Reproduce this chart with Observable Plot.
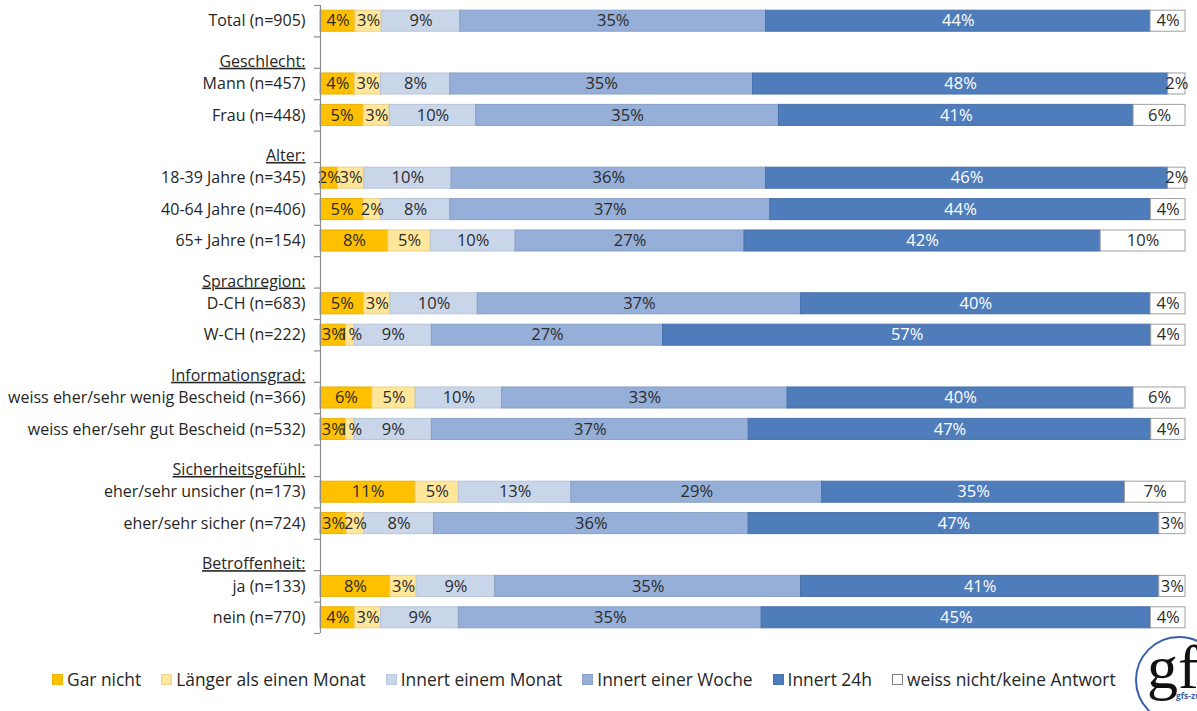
<!DOCTYPE html>
<html><head><meta charset="utf-8">
<script src="https://cdn.jsdelivr.net/npm/d3@7"></script>
<script src="https://cdn.jsdelivr.net/npm/@observablehq/plot@0.6"></script>
<style>
html,body{margin:0;padding:0;background:#fff;overflow:hidden;}
#wrap{position:relative;width:1197px;height:711px;font-family:"Open Sans",sans-serif;color:#262626;overflow:hidden;}
#legend{position:absolute;left:52px;top:667px;display:flex;gap:20px;font-size:17.4px;line-height:24px;white-space:nowrap;}
#legend .it{display:flex;align-items:center;}
#legend .sw{width:11px;height:11px;margin-right:4px;box-sizing:border-box;}
#logo{position:absolute;left:1128px;top:628px;}
</style></head>
<body><div id="wrap"><div id="chart"></div><div id="legend"></div>
<svg id="logo" width="80" height="90" viewBox="0 0 80 90">
<circle cx="51" cy="52" r="43" fill="none" stroke="#3a5fa8" stroke-width="2"/>
<text x="19" y="60" font-family="Liberation Serif, serif" font-size="62" fill="#111">gfs</text>
<text x="48" y="71" font-family="Open Sans, sans-serif" font-size="8.5" font-weight="bold" fill="#3a5fa8">gfs-zü</text>
</svg>
</div>
<script>
const rows = [
  "Total (n=905)",
  "Geschlecht:", "Mann (n=457)", "Frau (n=448)",
  "Alter:", "18-39 Jahre (n=345)", "40-64 Jahre (n=406)", "65+ Jahre (n=154)",
  "Sprachregion:", "D-CH (n=683)", "W-CH (n=222)",
  "Informationsgrad:", "weiss eher/sehr wenig Bescheid (n=366)", "weiss eher/sehr gut Bescheid (n=532)",
  "Sicherheitsgefühl:", "eher/sehr unsicher (n=173)", "eher/sehr sicher (n=724)",
  "Betroffenheit:", "ja (n=133)", "nein (n=770)"
];
const headers = ["Geschlecht:", "Alter:", "Sprachregion:", "Informationsgrad:", "Sicherheitsgefühl:", "Betroffenheit:"];
const categories = ["Gar nicht", "Länger als einen Monat", "Innert einem Monat", "Innert einer Woche", "Innert 24h", "weiss nicht/keine Antwort"];
const colors = ["#FFC000", "#FFE699", "#C9D6EA", "#95AFD8", "#4F7CBB", "#FFFFFF"];

// values per series, in order of the data rows (non-header rows)
const garNicht = [4, 4, 5, 2, 5, 8, 5, 3, 6, 3, 11, 3, 8, 4];
const laenger  = [3, 3, 3, 3, 2, 5, 3, 1, 5, 1, 5, 2, 3, 3];
const monat    = [9, 8, 10, 10, 8, 10, 10, 9, 10, 9, 13, 8, 9, 9];
const woche    = [35, 35, 35, 36, 37, 27, 37, 27, 33, 37, 29, 36, 35, 35];
const h24      = [44, 48, 41, 46, 44, 42, 40, 57, 40, 47, 35, 47, 41, 45];
const weissNicht = [4, 2, 6, 2, 4, 10, 4, 4, 6, 4, 7, 3, 3, 4];

const series = [garNicht, laenger, monat, woche, h24, weissNicht];
const dataRows = rows.filter(r => !headers.includes(r));
const data = [];
dataRows.forEach((row, i) => {
  categories.forEach((cat, j) => data.push({row, cat, value: series[j][i]}));
});

const W = 1197, H = 646, mT = 5, mB = 13;
const step = (H - mT - mB) / rows.length;
const font = "Open Sans, sans-serif";

const chart = Plot.plot({
  width: W, height: H,
  marginLeft: 320, marginRight: 12, marginTop: mT, marginBottom: mB,
  style: {fontFamily: font, fontSize: "16px", color: "#262626", background: "#fff"},
  x: {domain: [0, 1], axis: null},
  y: {domain: rows, paddingInner: 0.33, paddingOuter: 0.165, round: false, axis: null},
  color: {domain: categories, range: colors},
  marks: [
    Plot.barX(data, Plot.stackX({offset: "normalize", x: "value", y: "row", fill: "cat", order: categories})),
    Plot.text(data, Plot.stackX({offset: "normalize", x: "value", y: "row", z: "cat", order: categories,
      text: d => d.value + "%", fill: d => d.cat === "Innert 24h" ? "white" : "#2b2b2b", fontSize: 16.5})),
    Plot.ruleX([0], {stroke: "#8c8c8c", strokeWidth: 1.2}),
    Plot.ruleY(rows, {y: d => d, x1: -0.007, x2: 0, dy: -step / 2, stroke: "#8c8c8c", strokeWidth: 1.2}),
    Plot.ruleY(rows.slice(-1), {y: d => d, x1: -0.007, x2: 0, dy: step / 2, stroke: "#8c8c8c", strokeWidth: 1.2}),
    Plot.text(dataRows, {x: 0, y: d => d, text: d => d, textAnchor: "end", dx: -15, fill: "#262626", fontSize: 16}),
    Plot.text(headers, {x: 0, y: d => d, text: d => d, textAnchor: "end", dx: -15, dy: 9, fill: "#262626", fontSize: 16})
  ]
});
document.getElementById("chart").appendChild(chart);

// thin borders on bar segments (slightly darker than fill)
d3.select(chart).selectAll('g[aria-label="bar"] rect').each(function() {
  const f = d3.color(this.getAttribute("fill"));
  const s = (f && f.formatHex().toLowerCase() === "#ffffff") ? "#a0a0a0" : f.darker(0.25).formatHex();
  d3.select(this).attr("stroke", s).attr("stroke-width", 1);
});
// underline the group headers
d3.select(chart).selectAll("text").each(function() {
  if (headers.includes(this.textContent)) d3.select(this).style("text-decoration", "underline");
});

// legend
const leg = d3.select("#legend");
categories.forEach((c, i) => {
  const it = leg.append("div").attr("class", "it");
  it.append("div").attr("class", "sw").style("background", colors[i])
    .style("border", i === 5 ? "1px solid #7f7f7f" : "1px solid " + d3.color(colors[i]).darker(0.2).formatHex());
  it.append("span").text(c);
});
</script></body></html>
